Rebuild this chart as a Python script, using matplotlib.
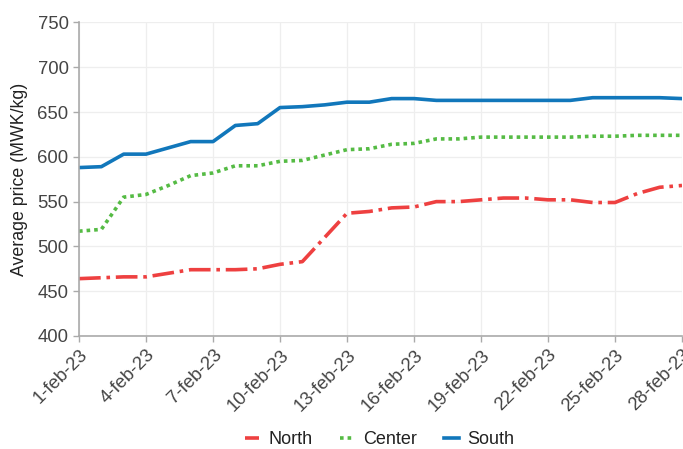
import numpy as np
import pandas as pd
import matplotlib
matplotlib.use("Agg")
import matplotlib.pyplot as plt

# === DATA === #
dates = pd.date_range("2023-02-01", "2023-02-28", freq="D")

north = [464, 465, 466, 466, 470, 474, 474, 474, 475, 480,
         483, 510, 537, 539, 543, 544, 550, 550, 552, 554,
         554, 552, 552, 549, 549, 559, 566, 568]
center = [517, 519, 555, 558, 568, 579, 582, 590, 590, 595,
          596, 602, 608, 609, 614, 615, 620, 620, 622, 622,
          622, 622, 622, 623, 623, 624, 624, 624]
south = [588, 589, 603, 603, 610, 617, 617, 635, 637, 655,
         656, 658, 661, 661, 665, 665, 663, 663, 663, 663,
         663, 663, 663, 666, 666, 666, 666, 665]

series_names = ["North", "Center", "South"]


def plot_chart():
    plt.rcParams['font.family'] = ['Liberation Sans', 'DejaVu Sans']
    fig = plt.figure(figsize=(6.83, 4.49), dpi=100)
    ax = fig.add_axes([0.1157, 0.2517, 0.8828, 0.6983])

    x = np.arange(len(dates))
    ax.plot(x, north, color='#EE4040', lw=2.6, dashes=(6, 1.6, 1, 1.6),
            label=series_names[0])
    ax.plot(x, center, color='#55BB44', lw=2.6, dashes=(1, 1.1),
            label=series_names[1])
    ax.plot(x, south, color='#1177BB', lw=2.6, label=series_names[2])

    ax.set_xlim(0, len(dates) - 1)
    ax.set_ylim(400, 750)
    ax.set_yticks(np.arange(400, 751, 50))
    ticks = x[::3]
    ax.set_xticks(ticks)
    ax.set_xticklabels(["%d-feb-23" % dates[i].day for i in ticks],
                       rotation=45, ha='right', rotation_mode='anchor')

    ax.grid(True, color='#EEEEEE', lw=0.9)
    ax.set_axisbelow(True)
    for s in ['top', 'right']:
        ax.spines[s].set_visible(False)
    for s in ['left', 'bottom']:
        ax.spines[s].set_color('#AAAAAA')
        ax.spines[s].set_linewidth(1.2)
    ax.tick_params(colors='#AAAAAA', labelcolor='#444444', labelsize=13.3,
                   length=4, width=1.0)
    ax.set_ylabel('Average price (MWK/kg)', fontsize=12.8, color='#222222',
                  labelpad=7)

    leg = fig.legend(loc='lower center', bbox_to_anchor=(0.556, -0.035), ncol=3,
                     frameon=False, fontsize=13, handlelength=0.8,
                     columnspacing=1.5, handletextpad=0.5)
    for t in leg.get_texts():
        t.set_color('#222222')

    fig.savefig("out.png", dpi=100)


def main():
    plot_chart()


if __name__ == '__main__': main()
